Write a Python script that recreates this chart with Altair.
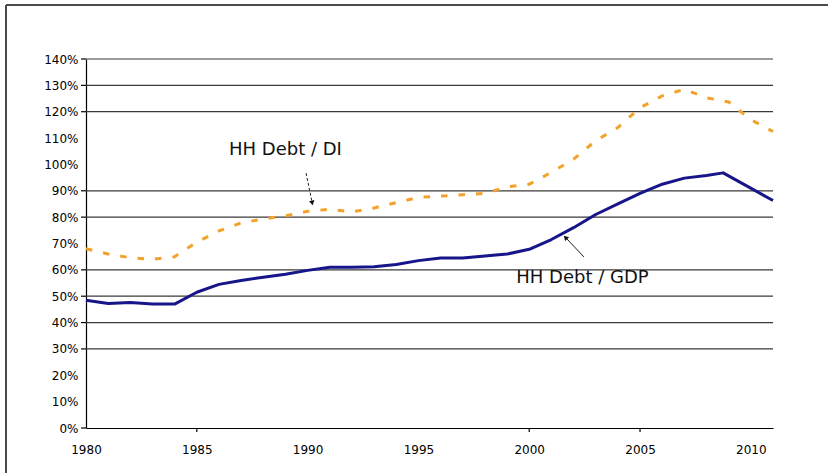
import altair as alt
import pandas as pd

# ---- data ----
gdp_years = [1980, 1981, 1982, 1983, 1984, 1985, 1986, 1987, 1988, 1989,
             1990, 1991, 1992, 1993, 1994, 1995, 1996, 1997, 1998, 1999,
             2000, 2001, 2002, 2003, 2004, 2005, 2006, 2007, 2008, 2008.75, 2011]
gdp_vals = [48.5, 47.2, 47.6, 47.0, 47.0, 51.5, 54.5, 56.0, 57.2, 58.3,
            59.8, 61.0, 61.0, 61.2, 62.0, 63.5, 64.5, 64.5, 65.3, 66.0,
            67.8, 71.5, 76.0, 81.0, 85.0, 89.0, 92.5, 94.8, 95.8, 96.8, 86.3]

di_years = list(range(1980, 2012))
di_vals = [68.0, 66.0, 64.6, 64.0, 65.0, 70.5, 74.8, 77.8, 79.3, 80.5,
           82.2, 83.0, 82.0, 83.5, 85.5, 87.5, 88.0, 88.5, 89.0, 91.5,
           92.5, 97.0, 102.0, 109.0, 114.0, 121.5, 126.0, 128.5, 125.3, 123.7,
           117.0, 112.5]

y_label_vals = list(range(0, 141, 10))
grid_vals = [30, 40, 50, 60, 80, 90, 120, 130, 140]
y_tick_vals = [0, 30, 40, 50, 60, 80, 90, 120, 130, 140]
x_label_years = [1980, 1985, 1990, 1995, 2000, 2005, 2010]
x_tick_years = [1985, 2000, 2005]

ann_text = ["HH Debt / DI", "HH Debt / GDP"]
ann_x = [1989.0, 2002.4]
ann_y = [105.5, 57.0]

arrow_x = [1989.93, 2002.47]
arrow_y = [96.7, 64.9]
arrow_x2 = [1990.2, 2001.66]
arrow_y2 = [85.7, 72.1]
arrow_angle = [168, 316]
arrow_dash = ["dash", "solid"]

W, H = 687, 369

gdp_df = pd.DataFrame({"year": gdp_years, "val": gdp_vals})
di_df = pd.DataFrame({"year": di_years, "val": di_vals})
grid_df = pd.DataFrame({"val": grid_vals})
ytick_df = pd.DataFrame({"val": y_tick_vals})
xtick_df = pd.DataFrame({"year": x_tick_years})
ann_df = pd.DataFrame({"year": ann_x, "val": ann_y, "text": ann_text})
arr_df = pd.DataFrame({"x": arrow_x, "y": arrow_y, "x2": arrow_x2, "y2": arrow_y2,
                       "ang": arrow_angle, "kind": arrow_dash})

xscale = alt.Scale(domain=[1980, 2011], nice=False, zero=False)
yscale = alt.Scale(domain=[0, 140], nice=False)

FONT = "DejaVu Sans"

xaxis = alt.Axis(values=x_label_years, format="d", grid=False, ticks=False,
                 domain=True, domainColor="#000", domainWidth=1.2,
                 labelFont=FONT, labelFontSize=12, labelColor="#000",
                 labelOverlap=False, labelFlush=False, labelBound=False,
                 labelPadding=16, title=None)
yaxis = alt.Axis(values=y_label_vals, labelExpr="datum.value + '%'", grid=False,
                 ticks=False, domain=True, domainColor="#000", domainWidth=1.2,
                 labelFont=FONT, labelFontSize=12, labelColor="#000",
                 labelOverlap=False, labelFlush=False, labelBound=False,
                 labelPadding=8, title=None)


def X(field):
    return alt.X(field, scale=xscale, axis=xaxis)


def Y(field):
    return alt.Y(field, scale=yscale, axis=yaxis)


grid = alt.Chart(grid_df).mark_rule(color="#3a3a3a", strokeWidth=1.2).encode(
    y=Y("val:Q")
)

yticks = alt.Chart(ytick_df).mark_rule(color="#000", strokeWidth=1.2).encode(
    y=Y("val:Q"), x=alt.value(-5), x2=alt.value(0)
)

xticks = alt.Chart(xtick_df).mark_rule(color="#000", strokeWidth=1.2).encode(
    x=X("year:Q"), y=alt.value(H), y2=alt.value(H + 4)
)

di_line = alt.Chart(di_df).mark_line(
    color="#F2A22A", strokeWidth=3, strokeDash=[6.5, 11], strokeCap="butt"
).encode(
    x=X("year:Q"),
    y=Y("val:Q"),
)

gdp_line = alt.Chart(gdp_df).mark_line(
    color="#16168A", strokeWidth=3, strokeJoin="round"
).encode(
    x=X("year:Q"),
    y=Y("val:Q"),
)

texts = alt.Chart(ann_df).mark_text(
    font=FONT, fontSize=18, color="#111", align="center", baseline="middle"
).encode(
    x=X("year:Q"), y=Y("val:Q"), text="text:N"
)

arr_dash = alt.Chart(arr_df[arr_df.kind == "dash"]).mark_rule(
    color="#222", strokeWidth=1, strokeDash=[3, 2]
).encode(
    x=X("x:Q"), y=Y("y:Q"), x2="x2:Q", y2="y2:Q"
)
arr_solid = alt.Chart(arr_df[arr_df.kind == "solid"]).mark_rule(
    color="#222", strokeWidth=1
).encode(
    x=X("x:Q"), y=Y("y:Q"), x2="x2:Q", y2="y2:Q"
)
heads = alt.Chart(arr_df).mark_point(
    shape="triangle", filled=True, color="#111", size=30, opacity=1
).encode(
    x=X("x2:Q"), y=Y("y2:Q"),
    angle=alt.Angle("ang:Q", scale=None)
)

border_top = alt.Chart(grid_df.head(1)).mark_rule(color="#4a4a4a", strokeWidth=2).encode(
    x=alt.value(-80), x2=alt.value(742), y=alt.value(-54)
)
border_left = alt.Chart(grid_df.head(1)).mark_rule(color="#4a4a4a", strokeWidth=2).encode(
    x=alt.value(-80), y=alt.value(-54), y2=alt.value(414)
)

chart = alt.layer(
    grid, yticks, xticks, di_line, gdp_line, arr_dash, arr_solid, heads, texts,
    border_top, border_left
).properties(
    width=W, height=H,
    autosize=alt.AutoSizeParams(type="none"),
    padding={"left": 86, "top": 59, "right": 55, "bottom": 45},
    background="white",
).configure_view(stroke=None)

chart.save("out.html", embed_options={"renderer": "svg", "actions": False})
